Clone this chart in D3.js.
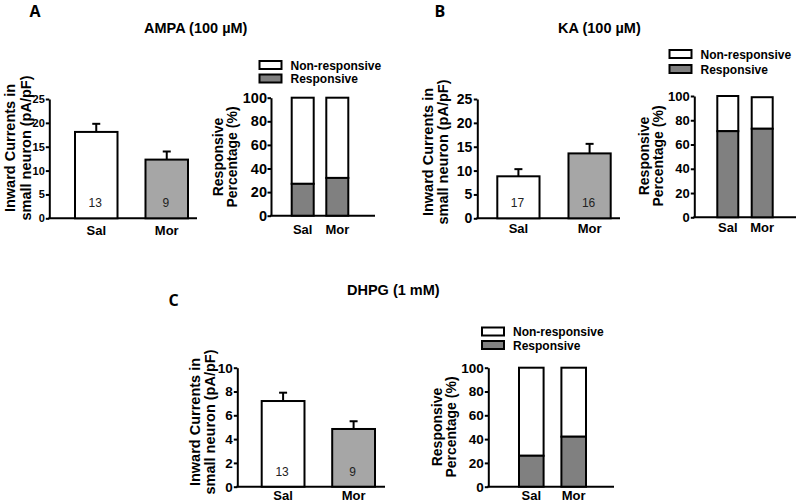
<!DOCTYPE html>
<html><head><meta charset="utf-8">
<script src="https://cdn.jsdelivr.net/npm/d3@7"></script>
<style>
html,body{margin:0;padding:0;background:#fff;}
svg{display:block;font-family:"Liberation Sans",Arial,sans-serif;}
</style></head>
<body>
<svg id="fig" width="800" height="503"></svg>
<script>
// ---- data ----
const groups = ["Sal", "Mor"];
const ampaMean = [18.1, 12.3];
const ampaSem = [1.7, 1.7];
const ampaN = [13, 9];
const kaMean = [8.8, 13.6];
const kaSem = [1.5, 2.0];
const kaN = [17, 16];
const dhpgMean = [7.2, 4.85];
const dhpgSem = [0.7, 0.65];
const dhpgN = [13, 9];
const ampaResp = [27, 32];
const ampaNonResp = [73, 68];
const kaResp = [71, 73];
const kaNonResp = [29, 26];
const dhpgResp = [26, 42];
const dhpgNonResp = [74, 58];
const currentTicks = [0, 5, 10, 15, 20, 25];
const dhpgTicks = [0, 2, 4, 6, 8, 10];
const pctTicks = [0, 20, 40, 60, 80, 100];
const legendLabels = ["Non-responsive", "Responsive"];

const svg = d3.select("#fig");
const FONT = "Liberation Sans, Arial, sans-serif";
const barFills = ["#ffffff", "#a6a6a6"];
const respFill = "#808080";

function yAxisTitle(lines, xs, cy, size) {
  lines.forEach((t, i) => {
    svg.append("text")
      .attr("transform", `translate(${xs[i]},${cy}) rotate(-90)`)
      .attr("text-anchor", "middle").attr("font-family", FONT)
      .attr("font-size", size).attr("font-weight", "bold")
      .text(t);
  });
}

function frame(c, y, ticks) {
  const ax = svg.append("g").attr("transform", `translate(${c.ax},0)`)
    .call(d3.axisLeft(y).tickValues(ticks).tickSize(3.5).tickSizeOuter(0).tickPadding(c.tp));
  ax.attr("font-family", FONT);
  ax.select(".domain").attr("stroke", "#000").attr("stroke-width", 2);
  ax.selectAll(".tick line").attr("stroke", "#000").attr("stroke-width", 2);
  ax.selectAll(".tick text").attr("font-size", c.tf).attr("font-weight", "bold").attr("fill", "#000");
  svg.append("line").attr("x1", c.ax - 1).attr("x2", c.right)
    .attr("y1", y(0)).attr("y2", y(0)).attr("stroke", "#000").attr("stroke-width", 2);
}

function xLabels(c, x, y) {
  const g = svg.append("g").attr("transform", `translate(0,${y(0)})`)
    .call(d3.axisBottom(x).tickSize(0).tickPadding(c.labPad));
  g.attr("font-family", FONT);
  g.select(".domain").remove();
  g.selectAll(".tick text").attr("font-size", 13).attr("font-weight", "bold").attr("fill", "#000");
}

function drawBar(c, mean, sem, n, ticks) {
  const y = d3.scaleLinear().domain([0, ticks[ticks.length - 1]]).range([c.yBot, c.yTop]);
  const x = d3.scaleBand().domain(groups).range(c.bars).paddingInner(c.pi).paddingOuter(0);
  frame(c, y, ticks);
  groups.forEach((gname, i) => {
    const cx = x(gname) + x.bandwidth() / 2;
    svg.append("line").attr("x1", cx).attr("x2", cx)
      .attr("y1", y(mean[i])).attr("y2", y(mean[i] + sem[i]))
      .attr("stroke", "#000").attr("stroke-width", 2);
    svg.append("line").attr("x1", cx - 4).attr("x2", cx + 4)
      .attr("y1", y(mean[i] + sem[i])).attr("y2", y(mean[i] + sem[i]))
      .attr("stroke", "#000").attr("stroke-width", 2);
    svg.append("rect").attr("x", x(gname)).attr("width", x.bandwidth())
      .attr("y", y(mean[i])).attr("height", y(0) - y(mean[i]))
      .attr("fill", barFills[i]).attr("stroke", "#000").attr("stroke-width", 2);
    svg.append("text").attr("x", cx - 1).attr("y", y(0) - 11)
      .attr("text-anchor", "middle").attr("font-family", FONT)
      .attr("font-size", 12).attr("fill", "#222")
      .text(n[i]);
  });
  xLabels(c, x, y);
  yAxisTitle(["Inward Currents in", "small neuron (pA/pF)"], c.tx, c.tcy, 14.5);
}

function drawStacked(c, resp, nonresp) {
  const y = d3.scaleLinear().domain([0, 100]).range([c.yBot, c.yTop]);
  const x = d3.scaleBand().domain(groups).range(c.bars).paddingInner(c.pi).paddingOuter(0);
  frame(c, y, pctTicks);
  groups.forEach((gname, i) => {
    svg.append("rect").attr("x", x(gname)).attr("width", x.bandwidth())
      .attr("y", y(resp[i] + nonresp[i])).attr("height", y(resp[i]) - y(resp[i] + nonresp[i]))
      .attr("fill", "#fff").attr("stroke", "#000").attr("stroke-width", 2);
    svg.append("rect").attr("x", x(gname)).attr("width", x.bandwidth())
      .attr("y", y(resp[i])).attr("height", y(0) - y(resp[i]))
      .attr("fill", respFill).attr("stroke", "#000").attr("stroke-width", 2);
  });
  xLabels(c, x, y);
  yAxisTitle(["Responsive", "Percentage (%)"], c.tx, c.tcy, 14);
  const fills = ["#fff", respFill];
  legendLabels.forEach((t, i) => {
    svg.append("rect").attr("x", c.lx).attr("y", c.ly[i]).attr("width", 22).attr("height", 8)
      .attr("fill", fills[i]).attr("stroke", "#000").attr("stroke-width", 2);
    svg.append("text").attr("x", c.lx + 31).attr("y", c.ly[i] + 8.5)
      .attr("font-family", FONT)
      .attr("font-size", 12).attr("font-weight", "bold").text(t);
  });
}

function panelText(t, x, y, size, family) {
  svg.append("text").attr("x", x).attr("y", y).attr("font-size", size)
    .attr("font-weight", "bold").attr("font-family", family).text(t);
}
panelText("A", 29.5, 17, 16, "Open Sans, sans-serif");
panelText("B", 434.5, 17, 16, "Open Sans, sans-serif");
panelText("C", 168.5, 306, 16, "Open Sans, sans-serif");
panelText("AMPA (100 µM)", 144, 33, 14.5, FONT);
panelText("KA (100 µM)", 558, 33, 14.5, FONT);
panelText("DHPG (1 mM)", 347, 295, 14.5, FONT);

drawBar({ax: 49.3, right: 197, bars: [75, 188], pi: 0.397, yTop: 99, yBot: 218.3,
  tf: 11, tp: 1, labPad: 7, tx: [15, 30.5], tcy: 148}, ampaMean, ampaSem, ampaN, currentTicks);
drawStacked({ax: 271, right: 375, bars: [291.7, 348.3], pi: 0.364, yTop: 97.7, yBot: 215.7,
  tf: 14.5, tp: 0.5, labPad: 9, tx: [223, 237], tcy: 157, lx: 259.5, ly: [61, 74.5]}, ampaResp, ampaNonResp);
drawBar({ax: 477.3, right: 620, bars: [497.3, 610.7], pi: 0.407, yTop: 99, yBot: 218.3,
  tf: 14, tp: 1.5, labPad: 5.5, tx: [433, 448], tcy: 152}, kaMean, kaSem, kaN, currentTicks);
drawStacked({ax: 694.3, right: 796, bars: [717.3, 772.7], pi: 0.39, yTop: 96, yBot: 217.3,
  tf: 13, tp: 1, labPad: 5.5, tx: [649, 663], tcy: 156, lx: 669.5, ly: [50, 65]}, kaResp, kaNonResp);
drawBar({ax: 237.3, right: 385, bars: [261.7, 375], pi: 0.393, yTop: 367.7, yBot: 486.7,
  tf: 13.5, tp: 1, labPad: 4.5, tx: [199.5, 214.5], tcy: 422}, dhpgMean, dhpgSem, dhpgN, dhpgTicks);
drawStacked({ax: 488.3, right: 614, bars: [519, 586], pi: 0.42, yTop: 367.7, yBot: 486.7,
  tf: 13.5, tp: 1, labPad: 4.5, tx: [442, 456], tcy: 427, lx: 482, ly: [327.5, 341]}, dhpgResp, dhpgNonResp);
</script>
</body></html>
